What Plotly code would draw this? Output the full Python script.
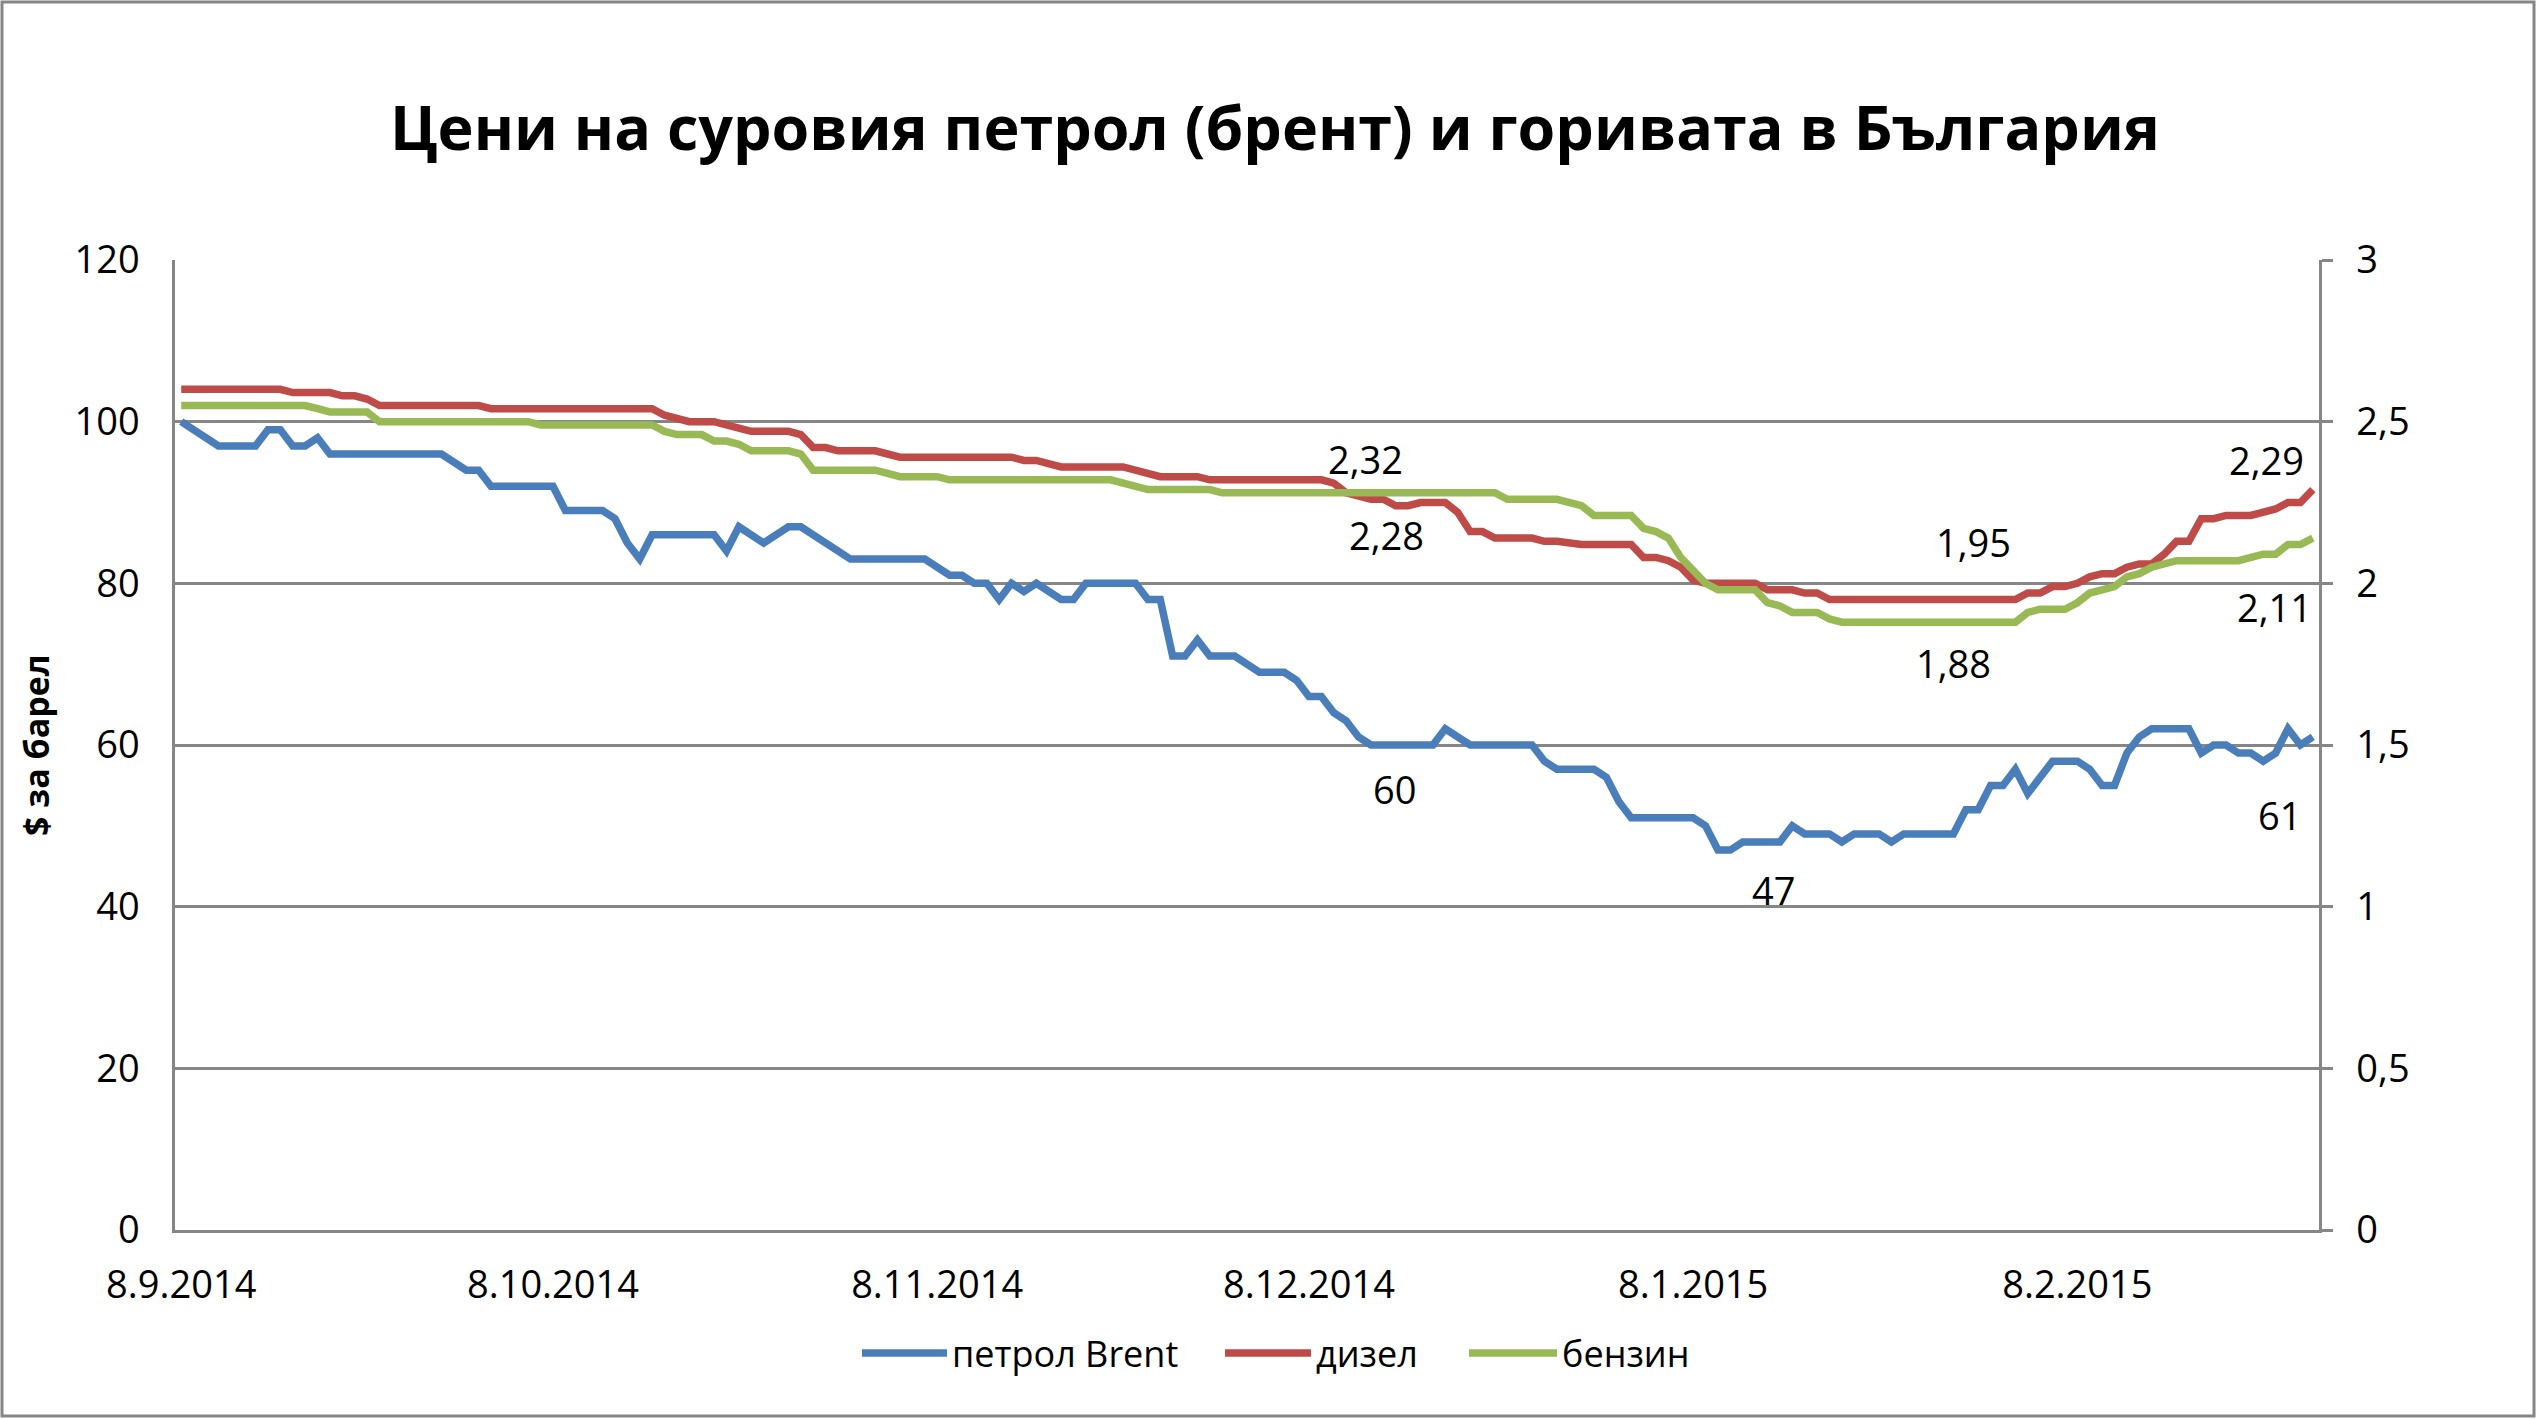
import plotly.graph_objects as go

# ---------------- data ----------------
brent_dates = [
    "2014-09-08", "2014-09-11", "2014-09-14", "2014-09-15", "2014-09-16", "2014-09-17", "2014-09-18",
    "2014-09-19", "2014-09-20", "2014-09-29", "2014-10-01", "2014-10-02", "2014-10-03", "2014-10-08",
    "2014-10-09", "2014-10-12", "2014-10-13", "2014-10-14", "2014-10-15", "2014-10-16", "2014-10-21",
    "2014-10-22", "2014-10-23", "2014-10-25", "2014-10-27", "2014-10-28", "2014-11-01", "2014-11-07",
    "2014-11-09", "2014-11-10", "2014-11-11", "2014-11-12", "2014-11-13", "2014-11-14", "2014-11-15",
    "2014-11-16", "2014-11-18", "2014-11-19", "2014-11-20", "2014-11-24", "2014-11-25", "2014-11-26",
    "2014-11-27", "2014-11-28", "2014-11-29", "2014-11-30", "2014-12-02", "2014-12-04", "2014-12-06",
    "2014-12-07", "2014-12-08", "2014-12-09", "2014-12-10", "2014-12-11", "2014-12-12", "2014-12-13",
    "2014-12-18", "2014-12-19", "2014-12-21", "2014-12-26", "2014-12-27", "2014-12-28", "2014-12-31",
    "2015-01-01", "2015-01-02", "2015-01-03", "2015-01-08", "2015-01-09", "2015-01-10", "2015-01-11",
    "2015-01-12", "2015-01-15", "2015-01-16", "2015-01-17", "2015-01-19", "2015-01-20", "2015-01-21",
    "2015-01-23", "2015-01-24", "2015-01-25", "2015-01-29", "2015-01-30", "2015-01-31", "2015-02-01",
    "2015-02-02", "2015-02-03", "2015-02-04", "2015-02-05", "2015-02-06", "2015-02-08", "2015-02-09",
    "2015-02-10", "2015-02-11", "2015-02-12", "2015-02-13", "2015-02-14", "2015-02-17", "2015-02-18",
    "2015-02-19", "2015-02-20", "2015-02-21", "2015-02-22", "2015-02-23", "2015-02-24", "2015-02-25",
    "2015-02-26", "2015-02-27",
]
brent_values = [
    100, 97, 97, 99, 99, 97, 97,
    98, 96, 96, 94, 94, 92, 92,
    89, 89, 88, 85, 83, 86, 86,
    84, 87, 85, 87, 87, 83, 83,
    81, 81, 80, 80, 78, 80, 79,
    80, 78, 78, 80, 80, 78, 78,
    71, 71, 73, 71, 71, 69, 69,
    68, 66, 66, 64, 63, 61, 60,
    60, 62, 60, 60, 58, 57, 57,
    56, 53, 51, 51, 50, 47, 47,
    48, 48, 50, 49, 49, 48, 49,
    49, 48, 49, 49, 52, 52, 55,
    55, 57, 54, 56, 58, 58, 57,
    55, 55, 59, 61, 62, 62, 59,
    60, 60, 59, 59, 58, 59, 62,
    60, 61,
]

diesel_dates = [
    "2014-09-08", "2014-09-16", "2014-09-17", "2014-09-20", "2014-09-21", "2014-09-22", "2014-09-23",
    "2014-09-24", "2014-10-02", "2014-10-03", "2014-10-16", "2014-10-17", "2014-10-19", "2014-10-21",
    "2014-10-23", "2014-10-24", "2014-10-27", "2014-10-28", "2014-10-29", "2014-10-30", "2014-10-31",
    "2014-11-03", "2014-11-04", "2014-11-05", "2014-11-14", "2014-11-15", "2014-11-16", "2014-11-18",
    "2014-11-23", "2014-11-24", "2014-11-26", "2014-11-29", "2014-11-30", "2014-12-09", "2014-12-10",
    "2014-12-11", "2014-12-12", "2014-12-13", "2014-12-14", "2014-12-15", "2014-12-16", "2014-12-17",
    "2014-12-19", "2014-12-20", "2014-12-21", "2014-12-22", "2014-12-23", "2014-12-26", "2014-12-27",
    "2014-12-28", "2014-12-30", "2015-01-03", "2015-01-04", "2015-01-05", "2015-01-06", "2015-01-07",
    "2015-01-08", "2015-01-09", "2015-01-13", "2015-01-14", "2015-01-16", "2015-01-17", "2015-01-18",
    "2015-01-19", "2015-02-03", "2015-02-04", "2015-02-05", "2015-02-06", "2015-02-07", "2015-02-08",
    "2015-02-09", "2015-02-10", "2015-02-11", "2015-02-12", "2015-02-13", "2015-02-14", "2015-02-15",
    "2015-02-16", "2015-02-17", "2015-02-18", "2015-02-19", "2015-02-20", "2015-02-22", "2015-02-23",
    "2015-02-24", "2015-02-25", "2015-02-26", "2015-02-27",
]
diesel_values = [
    2.60, 2.60, 2.59, 2.59, 2.58, 2.58, 2.57,
    2.55, 2.55, 2.54, 2.54, 2.52, 2.50, 2.50,
    2.48, 2.47, 2.47, 2.46, 2.42, 2.42, 2.41,
    2.41, 2.40, 2.39, 2.39, 2.38, 2.38, 2.36,
    2.36, 2.35, 2.33, 2.33, 2.32, 2.32, 2.31,
    2.28, 2.27, 2.26, 2.26, 2.24, 2.24, 2.25,
    2.25, 2.22, 2.16, 2.16, 2.14, 2.14, 2.13,
    2.13, 2.12, 2.12, 2.08, 2.08, 2.07, 2.05,
    2.01, 2.00, 2.00, 1.98, 1.98, 1.97, 1.97,
    1.95, 1.95, 1.97, 1.97, 1.99, 1.99, 2.00,
    2.02, 2.03, 2.03, 2.05, 2.06, 2.06, 2.09,
    2.13, 2.13, 2.20, 2.20, 2.21, 2.21, 2.22,
    2.23, 2.25, 2.25, 2.29,
]

petrol_dates = [
    "2014-09-08", "2014-09-18", "2014-09-19", "2014-09-20", "2014-09-23", "2014-09-24", "2014-10-06",
    "2014-10-07", "2014-10-16", "2014-10-17", "2014-10-18", "2014-10-20", "2014-10-21", "2014-10-22",
    "2014-10-23", "2014-10-24", "2014-10-27", "2014-10-28", "2014-10-29", "2014-11-03", "2014-11-04",
    "2014-11-05", "2014-11-08", "2014-11-09", "2014-11-22", "2014-11-23", "2014-11-25", "2014-11-30",
    "2014-12-01", "2014-12-23", "2014-12-24", "2014-12-28", "2014-12-29", "2014-12-30", "2014-12-31",
    "2015-01-03", "2015-01-04", "2015-01-05", "2015-01-06", "2015-01-07", "2015-01-08", "2015-01-09",
    "2015-01-10", "2015-01-13", "2015-01-14", "2015-01-15", "2015-01-16", "2015-01-18", "2015-01-19",
    "2015-01-20", "2015-02-03", "2015-02-04", "2015-02-05", "2015-02-07", "2015-02-08", "2015-02-09",
    "2015-02-10", "2015-02-11", "2015-02-12", "2015-02-13", "2015-02-14", "2015-02-15", "2015-02-16",
    "2015-02-21", "2015-02-22", "2015-02-23", "2015-02-24", "2015-02-25", "2015-02-26", "2015-02-27",
]
petrol_values = [
    2.55, 2.55, 2.54, 2.53, 2.53, 2.50, 2.50,
    2.49, 2.49, 2.47, 2.46, 2.46, 2.44, 2.44,
    2.43, 2.41, 2.41, 2.40, 2.35, 2.35, 2.34,
    2.33, 2.33, 2.32, 2.32, 2.31, 2.29, 2.29,
    2.28, 2.28, 2.26, 2.26, 2.25, 2.24, 2.21,
    2.21, 2.17, 2.16, 2.14, 2.08, 2.04, 2.00,
    1.98, 1.98, 1.94, 1.93, 1.91, 1.91, 1.89,
    1.88, 1.88, 1.91, 1.92, 1.92, 1.94, 1.97,
    1.98, 1.99, 2.02, 2.03, 2.05, 2.06, 2.07,
    2.07, 2.08, 2.09, 2.09, 2.12, 2.12, 2.14,
]

series_names = ["петрол Brent", "дизел", "бензин"]
title_text = "Цени на суровия петрол (брент) и горивата в България"
y_title = "$ за барел"

x_tick_dates = ["2014-09-08", "2014-10-08", "2014-11-08", "2014-12-08", "2015-01-08", "2015-02-08"]
x_tick_labels = ["8.9.2014", "8.10.2014", "8.11.2014", "8.12.2014", "8.1.2015", "8.2.2015"]

# data labels (text as shown) and where they sit (date, value on the left scale)
label_texts = ["2,32", "2,28", "60", "47", "1,95", "1,88", "2,29", "2,11", "61"]
label_dates = ["2014-12-12 14:00", "2014-12-14 07:00", "2014-12-14 22:00", "2015-01-14 12:00",
               "2015-01-30 14:00", "2015-01-29 00:00", "2015-02-23 07:00", "2015-02-23 22:00",
               "2015-02-24 07:00"]
label_levels = [95.4, 86.0, 54.5, 42.1, 85.1, 70.1, 95.3, 77.1, 51.3]

# ---------------- style ----------------
FONT = "Open Sans"
GRID = "#868686"
colors = ["#4A7EBB", "#BE4B48", "#98B954"]
LW = 7.5

W, H = 2537, 1419
ML, MR, MT, MB = 175, 218, 260, 189
pw, ph = W - ML - MR, H - MT - MB


def px_to_paper_x(px):
    return (px - ML) / pw


def px_to_paper_y(py):
    return (H - MB - py) / ph


fig = go.Figure()
fig.add_trace(go.Scatter(x=brent_dates, y=brent_values, name=series_names[0], mode="lines",
                         line=dict(color=colors[0], width=LW), yaxis="y"))
fig.add_trace(go.Scatter(x=diesel_dates, y=diesel_values, name=series_names[1], mode="lines",
                         line=dict(color=colors[1], width=LW), yaxis="y2"))
fig.add_trace(go.Scatter(x=petrol_dates, y=petrol_values, name=series_names[2], mode="lines",
                         line=dict(color=colors[2], width=LW), yaxis="y2"))

annotations = []
for t, d, v in zip(label_texts, label_dates, label_levels):
    annotations.append(dict(x=d, y=v, xref="x", yref="y", text=t, showarrow=False,
                            xanchor="center", yanchor="middle",
                            font=dict(family=FONT, size=38, color="black")))

# y-axis title
annotations.append(dict(x=px_to_paper_x(36), y=0.5, xref="paper", yref="paper",
                        text="<b>" + y_title + "</b>", textangle=-90, showarrow=False,
                        xanchor="center", yanchor="middle",
                        font=dict(family=FONT, size=34, color="black")))

# legend drawn as line samples + text (Excel style long samples)
legend_line_px = [(862, 947), (1225, 1311), (1469, 1557)]
legend_y_px = 1353
shapes = []
for (x0, x1), name, col in zip(legend_line_px, series_names, colors):
    shapes.append(dict(type="line", xref="paper", yref="paper",
                       x0=px_to_paper_x(x0), x1=px_to_paper_x(x1),
                       y0=px_to_paper_y(legend_y_px), y1=px_to_paper_y(legend_y_px),
                       line=dict(color=col, width=LW)))
    annotations.append(dict(x=px_to_paper_x(x1 + 3), y=px_to_paper_y(legend_y_px),
                            xref="paper", yref="paper", text=name, showarrow=False,
                            xanchor="left", yanchor="middle",
                            font=dict(family=FONT, size=36, color="black")))

# chart border
shapes.append(dict(type="rect", xref="paper", yref="paper",
                   x0=px_to_paper_x(2), x1=px_to_paper_x(W - 3),
                   y0=px_to_paper_y(H - 3), y1=px_to_paper_y(2),
                   line=dict(color=GRID, width=3), fillcolor="rgba(0,0,0,0)", layer="below"))

fig.update_layout(
    width=W, height=H,
    margin=dict(l=ML, r=MR, t=MT, b=MB, autoexpand=False),
    paper_bgcolor="white", plot_bgcolor="white",
    separators=",.",
    title=dict(text="<b>" + title_text + "</b>", x=1275 / W, xanchor="center",
               y=1 - 129 / H, yanchor="middle",
               font=dict(family=FONT, size=61, color="black")),
    font=dict(family=FONT, size=38, color="black"),
    showlegend=False,
    xaxis=dict(type="date", range=["2014-09-07 12:00", "2015-02-27 12:00"],
               tickvals=x_tick_dates, ticktext=x_tick_labels, showgrid=False,
               showline=True, linecolor=GRID, linewidth=3, ticks="",
               ticklabelstandoff=19, tickfont=dict(family=FONT, size=38, color="black"),
               zeroline=False),
    yaxis=dict(range=[0, 120], dtick=20, showgrid=True, gridcolor=GRID, gridwidth=2.5,
               showline=True, linecolor=GRID, linewidth=2.5, zeroline=False, ticks="",
               ticklabelstandoff=25, tickfont=dict(family=FONT, size=38, color="black")),
    yaxis2=dict(range=[0, 3], dtick=0.5, overlaying="y", side="right", showgrid=False,
                showline=True, linecolor=GRID, linewidth=2.5, zeroline=False,
                ticks="outside", ticklen=11, tickwidth=2.5, tickcolor=GRID,
                ticklabelstandoff=16, tickfont=dict(family=FONT, size=38, color="black")),
    annotations=annotations,
    shapes=shapes,
)

fig.write_html("out.html")
